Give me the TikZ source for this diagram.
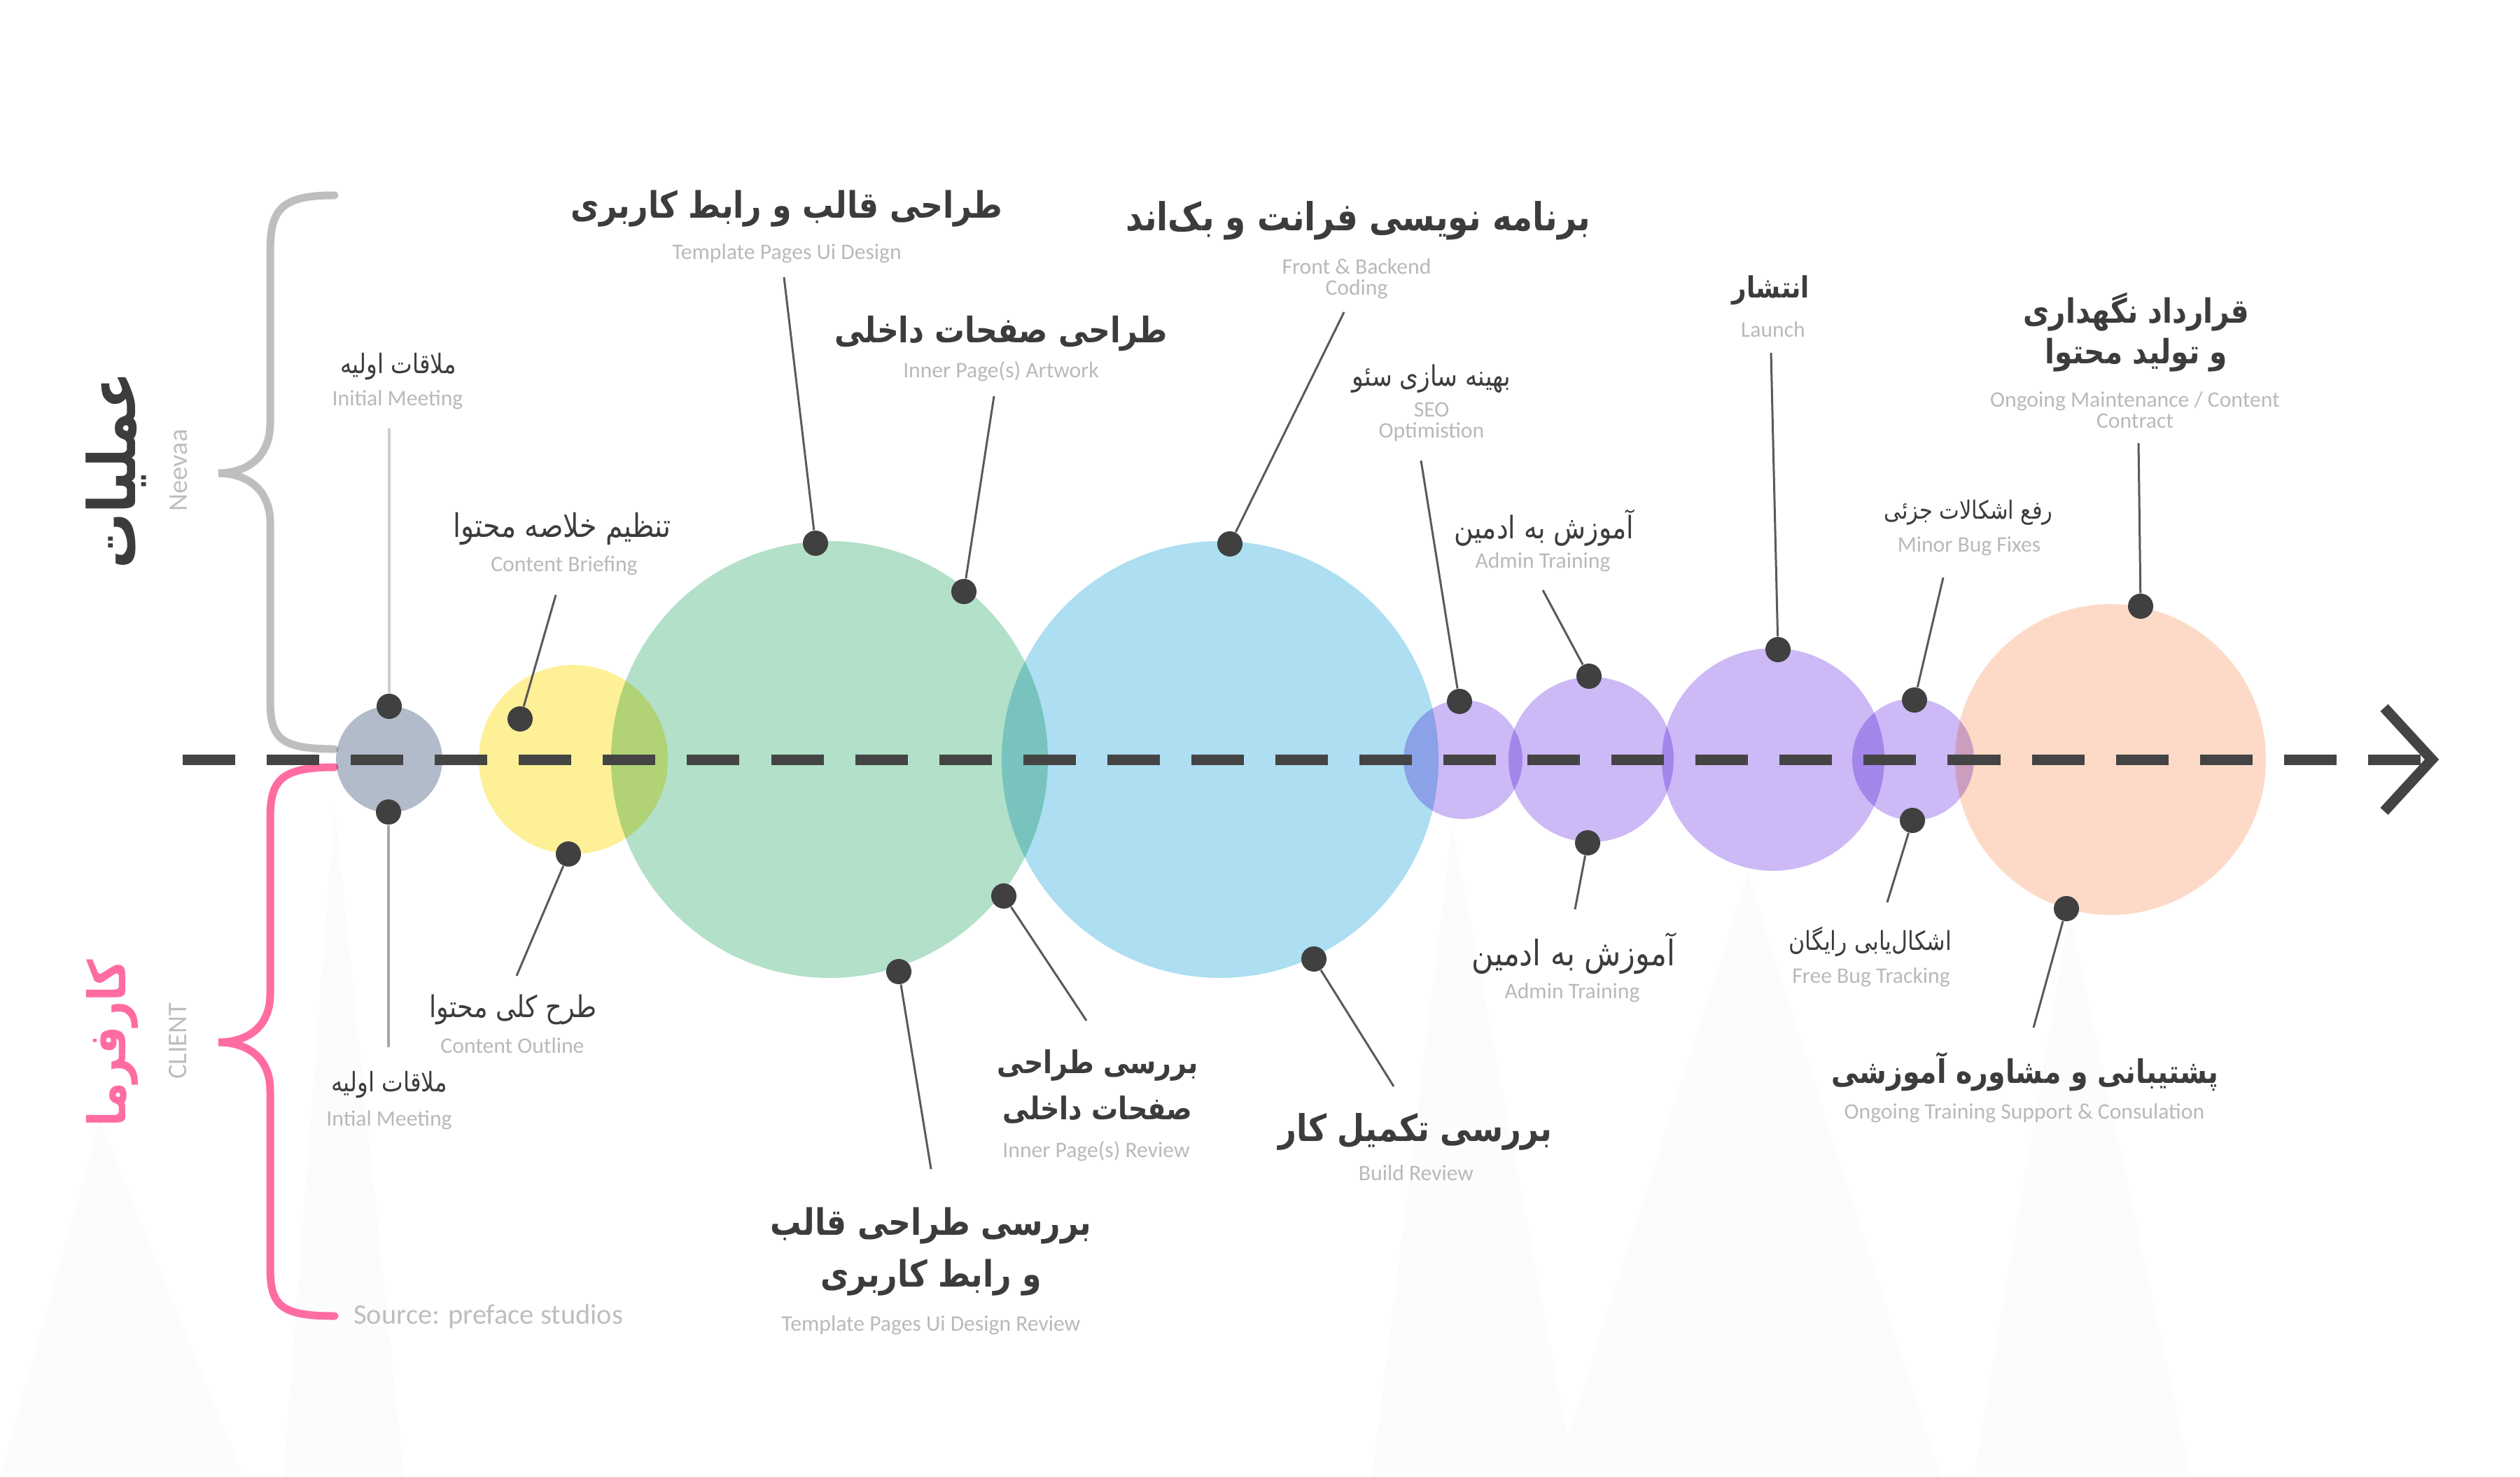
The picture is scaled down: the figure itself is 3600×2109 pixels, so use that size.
\documentclass[tikz,border=0pt]{standalone}
\usepackage{fontspec}
\setmainfont{Carlito}
\newfontfamily\fa[Script=Arabic, FakeStretch=0.85]{DejaVu Sans}
\TeXXeTstate=1

\definecolor{dotgray}{RGB}{64,64,64}
\definecolor{leadgray}{RGB}{90,90,90}
\definecolor{axisgray}{RGB}{68,68,68}
\definecolor{fagray}{RGB}{60,60,60}
\definecolor{engray}{RGB}{185,185,185}
\definecolor{bracegray}{RGB}{190,190,190}
\definecolor{pinkish}{RGB}{255,108,162}
\definecolor{cgray}{RGB}{178,187,202}
\definecolor{cyellow}{RGB}{254,240,150}
\definecolor{cgreen}{RGB}{178,224,200}
\definecolor{cblue}{RGB}{173,222,242}
\definecolor{cpurple}{RGB}{205,185,245}
\definecolor{cpeach}{RGB}{253,218,200}

\tikzstyle{dot} = [circle, fill=dotgray, inner sep=0pt, minimum size=3.6mm]
\tikzstyle{lead} = [draw=leadgray, line width=0.3mm]
\tikzstyle{axis} = [draw=axisgray, line width=1.5mm]
\tikzstyle{brace} = [line width=1.1mm, line cap=round]
\tikzstyle{peak} = [fill=black!1.1]
\tikzstyle{en} = [text=engray, inner sep=0pt, align=center, font=\fontsize{9}{8.5}\selectfont]
\tikzset{
  fa/.style={text=fagray, inner sep=0pt, align=center, font=\fa\fontsize{#1}{#1}\selectfont},
  fa/.default=10.5,
  fab/.style 2 args={text=fagray, inner sep=0pt, align=center, font=\fa\bfseries\fontsize{#1}{#2}\selectfont}
}

\begin{document}
\begin{tikzpicture}[x=0.01cm,y=-0.01cm]
\useasboundingbox (0,0) rectangle (3600,2109);

% faint peaks in the back
\fill[peak] (143,1600) -- (0,2109) -- (348,2109) -- cycle;
\fill[peak] (478,1150) -- (405,2109) -- (577,2109) -- cycle;
\fill[peak] (2075,1180) -- (1960,2109) -- (2250,2109) -- cycle;
\fill[peak] (2497,1248) -- (2221,2109) -- (2772,2109) -- cycle;
\fill[peak] (2956,1303) -- (2820,2109) -- (3130,2109) -- cycle;

% braces
\draw[brace, bracegray] (478,279) .. controls (400,279) and (386,300) .. (386,360) -- (386,605)
  .. controls (386,655) and (350,676) .. (312,676) .. controls (350,676) and (386,697) .. (386,747)
  -- (386,1000) .. controls (386,1055) and (400,1070) .. (478,1070);
\draw[brace, pinkish] (478,1096) .. controls (400,1096) and (386,1115) .. (386,1170) -- (386,1420)
  .. controls (386,1470) and (350,1489) .. (312,1489) .. controls (350,1489) and (386,1508) .. (386,1558)
  -- (386,1810) .. controls (386,1865) and (400,1880) .. (478,1880);

\node[rotate=90, text=fagray, font=\fa\bfseries\fontsize{26.5}{28}\selectfont] (ops) at (166,672) {\beginR عملیات\endR};
\node[rotate=90, text=bracegray, font=\fontsize{11}{12}\selectfont] (neevaa) at (255,672) {Neevaa};
\node[rotate=90, text=pinkish, font=\fa\bfseries\fontsize{21}{23}\selectfont] (cli) at (160,1490) {\beginR کارفرما\endR};
\node[rotate=90, text=bracegray, font=\fontsize{11}{12}\selectfont] (client) at (254,1487) {CLIENT};
\node[text=bracegray, font=\fontsize{11.5}{12}\selectfont, anchor=west] (src) at (493,1881) {Source: preface studios};

% stages
\begin{scope}[blend mode=multiply]
\fill[cgray] (556,1085) circle (76);
\fill[cyellow] (819,1085) circle (135);
\fill[cgreen] (1185,1085) circle (312);
\fill[cblue] (1743,1085) circle (312);
\fill[cpurple] (2090,1085) circle (85);
\fill[cpurple] (2273,1085) circle (118);
\fill[cpurple] (2533,1085) circle (159);
\fill[cpurple] (2733,1085) circle (87);
\fill[cpeach] (3015,1085) circle (222);
\end{scope}

% time line
\coordinate (ax0) at (261,1085);
\coordinate (ax1) at (3458,1085);
\coordinate (tip) at (3474,1085);
\draw[axis, dash pattern=on 7.5mm off 4.5mm] (ax0) -- (ax1);
\draw[axis, line join=miter] (3406,1011) -- (tip) -- (3406,1159);

% dots
\node[dot] (meet) at (556,1009) {};
\node[dot] (brief) at (743,1027) {};
\node[dot] (tpl) at (1165,776) {};
\node[dot] (inner) at (1377,845) {};
\node[dot] (code) at (1757,777) {};
\node[dot] (seo) at (2085,1002) {};
\node[dot] (admin) at (2270,966) {};
\node[dot] (launch) at (2540,928) {};
\node[dot] (minor) at (2735,1000) {};
\node[dot] (maint) at (3058,866) {};
\node[dot] (meetb) at (555,1160) {};
\node[dot] (outline) at (812,1220) {};
\node[dot] (tplrev) at (1284,1388) {};
\node[dot] (innerrev) at (1434,1280) {};
\node[dot] (build) at (1877,1370) {};
\node[dot] (adminb) at (2268,1204) {};
\node[dot] (bugs) at (2732,1172) {};
\node[dot] (support) at (2952,1298) {};

% line ends
\coordinate (meet-e) at (556,612);
\coordinate (brief-e) at (794,850);
\coordinate (tpl-e) at (1120,396);
\coordinate (inner-e) at (1420,566);
\coordinate (code-e) at (1920,446);
\coordinate (seo-e) at (2030,658);
\coordinate (admin-e) at (2204,843);
\coordinate (launch-e) at (2530,504);
\coordinate (minor-e) at (2776,825);
\coordinate (maint-e) at (3055,633);
\coordinate (meetb-e) at (555,1496);
\coordinate (outline-e) at (738,1394);
\coordinate (tplrev-e) at (1330,1670);
\coordinate (innerrev-e) at (1552,1458);
\coordinate (build-e) at (1991,1552);
\coordinate (adminb-e) at (2250,1299);
\coordinate (bugs-e) at (2696,1289);
\coordinate (support-e) at (2905,1468);

\draw[lead, draw=black!20, line width=0.4mm] (meet) -- (meet-e);
\draw[lead, draw=black!35, line width=0.45mm] (meetb) -- (meetb-e);
\foreach \s in {brief,tpl,inner,code,seo,admin,launch,minor,maint,outline,tplrev,innerrev,build,adminb,bugs,support}
  \draw[lead] (\s) -- (\s-e);

% labels above
\node[fa=10.9] (meet-fa) at (569,524) {\beginR ملاقات اولیه\endR};
\node[en] (meet-en) at (568,571) {Initial Meeting};
\node[fa=13.2] (brief-fa) at (803,756) {\beginR تنظیم خلاصه محتوا\endR};
\node[en] (brief-en) at (806,808) {Content Briefing};
\node[fab={14.8}{20}] (tpl-fa) at (1124,298) {\beginR طراحی قالب و رابط کاربری\endR};
\node[en] (tpl-en) at (1124,362) {Template Pages Ui Design};
\node[fab={14.3}{20}] (inner-fa) at (1430,477) {\beginR طراحی صفحات داخلی\endR};
\node[en] (inner-en) at (1430,531) {Inner Page(s) Artwork};
\node[fab={15.7}{20}] (code-fa) at (1940,315) {\beginR برنامه نویسی فرانت و بک‌اند\endR};
\node[en] (code-en) at (1938,398) {Front \& Backend\\Coding};
\node[fa=11.5] (seo-fa) at (2045,541) {\beginR بهینه سازی سئو\endR};
\node[en] (seo-en) at (2045,603) {SEO\\Optimistion};
\node[fa=12.6] (admin-fa) at (2206,754) {\beginR آموزش به ادمین\endR};
\node[en] (admin-en) at (2204,803) {Admin Training};
\node[fab={11.9}{16}] (launch-fa) at (2530,415) {\beginR انتشار\endR};
\node[en] (launch-en) at (2533,471) {Launch};
\node[fa=10.2] (minor-fa) at (2812,732) {\beginR رفع اشکالات جزئی\endR};
\node[en] (minor-en) at (2813,780) {Minor Bug Fixes};
\node[fab={13.6}{16.5}] (maint-fa) at (3052,475) {\beginR قرارداد نگهداری\endR\\\beginR و تولید محتوا\endR};
\node[en] (maint-en) at (3050,586) {Ongoing Maintenance / Content\\Contract};

% labels below
\node[fa=10.9] (meetb-fa) at (556,1550) {\beginR ملاقات اولیه\endR};
\node[en] (meetb-en) at (556,1600) {Intial Meeting};
\node[fa=12.2] (outline-fa) at (733,1442) {\beginR طرح کلی محتوا\endR};
\node[en] (outline-en) at (732,1494) {Content Outline};
\node[fab={14.8}{21}] (tplrev-fa) at (1330,1788) {\beginR بررسی طراحی قالب\endR\\\beginR و رابط کاربری\endR};
\node[en] (tplrev-en) at (1330,1893) {Template Pages Ui Design Review};
\node[fab={12.7}{18.8}] (innerrev-fa) at (1568,1552) {\beginR بررسی طراحی\endR\\\beginR صفحات داخلی\endR};
\node[en] (innerrev-en) at (1566,1645) {Inner Page(s) Review};
\node[fab={15}{20}] (build-fa) at (2022,1617) {\beginR بررسی تکمیل کار\endR};
\node[en] (build-en) at (2023,1676) {Build Review};
\node[fa=14.3] (adminb-fa) at (2248,1362) {\beginR آموزش به ادمین\endR};
\node[en] (adminb-en) at (2246,1418) {Admin Training};
\node[fa=10.6] (bugs-fa) at (2672,1345) {\beginR اشکال‌یابی رایگان\endR};
\node[en] (bugs-en) at (2673,1396) {Free Bug Tracking};
\node[fab={13.2}{18}] (support-fa) at (2893,1531) {\beginR پشتیبانی و مشاوره آموزشی\endR};
\node[en] (support-en) at (2892,1590) {Ongoing Training Support \& Consulation};
\end{tikzpicture}
\end{document}
